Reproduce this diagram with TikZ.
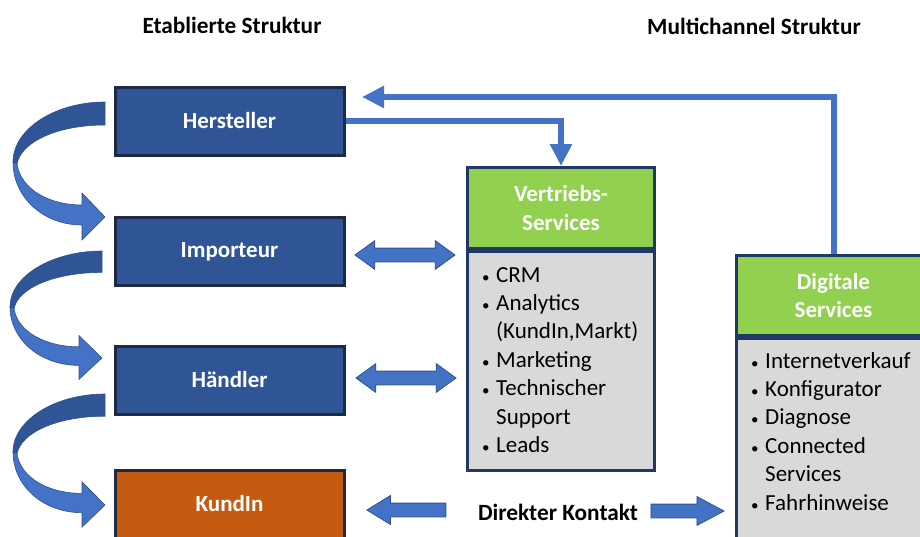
\documentclass[tikz,border=0pt]{standalone}
\usepackage{fontspec}
\setmainfont{Carlito}
\usetikzlibrary{arrows.meta, shapes.arrows}

\definecolor{ink}{HTML}{1E2A44}
\definecolor{navy}{HTML}{203864}
\definecolor{boxblue}{HTML}{2F5597}
\definecolor{lineblue}{HTML}{4472C4}
\definecolor{edgeblue}{HTML}{2F528F}
\definecolor{rust}{HTML}{C55A11}
\definecolor{leaf}{HTML}{92D050}
\definecolor{ash}{HTML}{D9D9D9}

\newcommand{\li}{\makebox[14pt][l]{\fontsize{15}{15}\selectfont\textbullet}}
\newcommand{\lc}{\hspace*{14pt}}

\tikzset{
  every node/.style={font=\fontsize{23}{28.4}\selectfont},
  title/.style={font=\fontsize{23.3}{28.4}\selectfont\bfseries},
  level/.style={rectangle, draw=ink, line width=3pt, fill=boxblue, text=white,
    font=\fontsize{23}{28.4}\selectfont\bfseries, minimum width=229pt, minimum height=68pt},
  head/.style={rectangle, draw=navy, line width=3pt, fill=leaf, text=white, align=center,
    font=\fontsize{23}{28.4}\selectfont\bfseries, anchor=north west},
  body/.style={rectangle, draw=navy, line width=3pt, fill=ash, anchor=north},
  list/.style={align=left, anchor=north west, inner xsep=16pt, inner ysep=15pt},
  link/.style={draw=lineblue, line width=6pt, -{Triangle[width=21pt, length=22pt]}},
  twoway/.style={double arrow, draw=edgeblue, fill=lineblue, line width=0.8pt,
    inner xsep=0pt, inner ysep=6.5pt, double arrow head extend=7.5pt,
    double arrow tip angle=72, minimum height=100pt},
  oneway/.style={single arrow, draw=edgeblue, fill=lineblue, line width=0.8pt,
    inner xsep=0pt, inner ysep=6.5pt, single arrow head extend=7.5pt}
}

\begin{document}
\begin{tikzpicture}[x=1pt, y=-1pt]
\useasboundingbox (0,0) rectangle (920,536);
\clip (0,0) rectangle (920,536);

\path (232, 25) node[title] (etab) {Etablierte Struktur}
      (754, 26) node[title] (multi) {Multichannel Struktur};

% etablierte Kette
\path (229.5, 121) node[level] (her) {Hersteller}
      (229.5, 251.5) node[level] (imp) {Importeur}
      (229.5, 380) node[level] (hae) {Händler}
      (229.5, 504) node[level, fill=rust] (kun) {KundIn};

% gebogene Pfeile links
\foreach \ox/\oy/\s in {105/102/1, 102/251/0.93, 105/394/0.965} {
  \begin{scope}[shift={(\ox,\oy)}, yscale=\s]
    \filldraw[fill=boxblue, draw=edgeblue, line width=0.6pt]
      (0,0) .. controls (-50,0) and (-92,27) .. (-92,60) -- (-88,62)
      .. controls (-84,40) and (-48,23) .. (0,23) -- cycle;
    \filldraw[fill=lineblue, draw=edgeblue, line width=0.6pt]
      (-92,60) .. controls (-92,95) and (-62,123) .. (-23,123) -- (-23,138) -- (0,115)
      -- (-23,91) -- (-23,103) .. controls (-55,103) and (-84,88) .. (-88,62) -- cycle;
  \end{scope}
}

% Multichannel
\path (466, 166) node[head, minimum width=187pt, minimum height=81pt] (vhead) {Vertriebs-\\Services};
\path (vhead.south) node[body, minimum width=187pt, minimum height=219pt] (vbody) {};
\path (vbody.north west) node[list, inner ysep=17pt] (vlist)
  {\li CRM\\\li Analytics\\\lc(KundIn,Markt)\\\li Marketing\\\li Technischer\\\lc Support\\\li Leads};

\path (735, 254) node[head, minimum width=194pt, minimum height=80pt] (dhead) {Digitale\\Services};
\path (dhead.south) node[body, minimum width=194pt, minimum height=220pt] (dbody) {};
\path (dbody.north west) node[list] (dlist)
  {\li Internetverkauf\\\li Konfigurator\\\li Diagnose\\\li Connected\\\lc Services\\\li Fahrhinweise};

% Verbindungen
\coordinate (back) at (362, 97);
\draw[link] (her.east) -| (vhead.north);
\draw[link] (dhead.north) |- (back);

\path (405, 255) node[twoway] (iv) {}
      (406, 378) node[twoway] (hv) {}
      (412, 510) node[oneway, shape border rotate=180, minimum height=79pt,
        single arrow tip angle=63] (kl) {}
      (558, 512) node[title] (direkt) {Direkter Kontakt}
      (681, 511) node[oneway, minimum height=73pt, single arrow tip angle=56] (kr) {};

\end{tikzpicture}
\end{document}
